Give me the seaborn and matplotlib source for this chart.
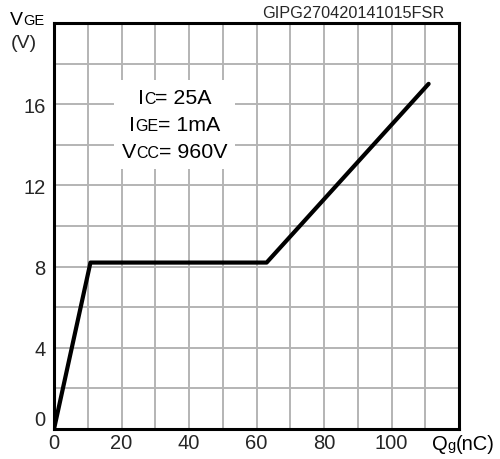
import matplotlib
matplotlib.use("Agg")
import matplotlib.pyplot as plt
import pandas as pd
import seaborn as sns
from matplotlib.offsetbox import AnnotationBbox, HPacker, TextArea, VPacker

# gate charge curve
qg_nc = [0, 10.8, 63, 111]
vge_v = [0, 8.2, 8.2, 17]

x_ticks = [0, 20, 40, 60, 80, 100]
y_ticks = [0, 4, 8, 12, 16]
conditions = [("I", "C", "= 25A"), ("I", "GE", "= 1mA"), ("V", "CC", "= 960V")]
doc_code = "GIPG270420141015FSR"

sns.set_style("white")
plt.rcParams["font.family"] = ["Liberation Sans", "DejaVu Sans"]

BIG, SMALL = 14.5, 10.5


def sub_label(main, sub, rest="", size=BIG, small=SMALL):
    parts = [TextArea(main, textprops=dict(size=size, color="black")),
             TextArea(sub, textprops=dict(size=small, color="black"))]
    if rest:
        parts.append(TextArea(rest, textprops=dict(size=size, color="black")))
    return HPacker(children=parts, align="baseline", pad=0, sep=0)


fig = plt.figure(figsize=(5, 4.6), dpi=100)
ax = fig.add_axes([0.108, 0.065, 0.81, 0.883])

df = pd.DataFrame({"Qg": qg_nc, "VGE": vge_v})
sns.lineplot(data=df, x="Qg", y="VGE", ax=ax, color="black", linewidth=3, sort=False, zorder=5)

ax.set_xlim(0, 120)
ax.set_ylim(0, 20)
ax.set_xticks(x_ticks)
ax.set_xticks([10, 30, 50, 70, 90, 110], minor=True)
ax.set_yticks(y_ticks)
ax.set_yticks([2, 6, 10, 14, 18], minor=True)
ax.grid(True, which="both", color="#b4b4b4", linewidth=1.4)
ax.tick_params(which="both", length=0, labelsize=BIG)
ax.tick_params(axis="y", pad=6)
ax.tick_params(axis="x", pad=3)
ax.set_xlabel("")
ax.set_ylabel("")
for s in ax.spines.values():
    s.set_visible(True)
    s.set_color("black")
    s.set_linewidth(2.2)
ax.get_yticklabels()[0].set_verticalalignment("bottom")

# conditions box
lines = [sub_label(m, s, r, size=15.4, small=11.5) for m, s, r in conditions]
box = VPacker(children=lines, align="center", pad=0, sep=6)
ab = AnnotationBbox(box, (35.8, 15.0), xycoords="data", box_alignment=(0.5, 0.5),
                    frameon=True, pad=0.55,
                    bboxprops=dict(facecolor="white", edgecolor="none"), zorder=4)
ax.add_artist(ab)

# axis labels
vlab = sub_label("V", "GE", size=14, small=SMALL)
fig.add_artist(AnnotationBbox(vlab, (10 / 500, 1 - 29 / 460), xycoords="figure fraction",
                              box_alignment=(0, 0), frameon=False, pad=0))
fig.text(11 / 500, 1 - 48 / 460, "(V)", size=14, ha="left", va="baseline")
qlab = sub_label("Q", "g", "(nC)", size=BIG, small=SMALL)
fig.add_artist(AnnotationBbox(qlab, (432 / 500, 1 - 454 / 460), xycoords="figure fraction",
                              box_alignment=(0, 0), frameon=False, pad=0))
fig.text(262 / 500, 1 - 18 / 460, doc_code, size=11.7, ha="left", va="baseline")

fig.savefig("out.png", dpi=100)
